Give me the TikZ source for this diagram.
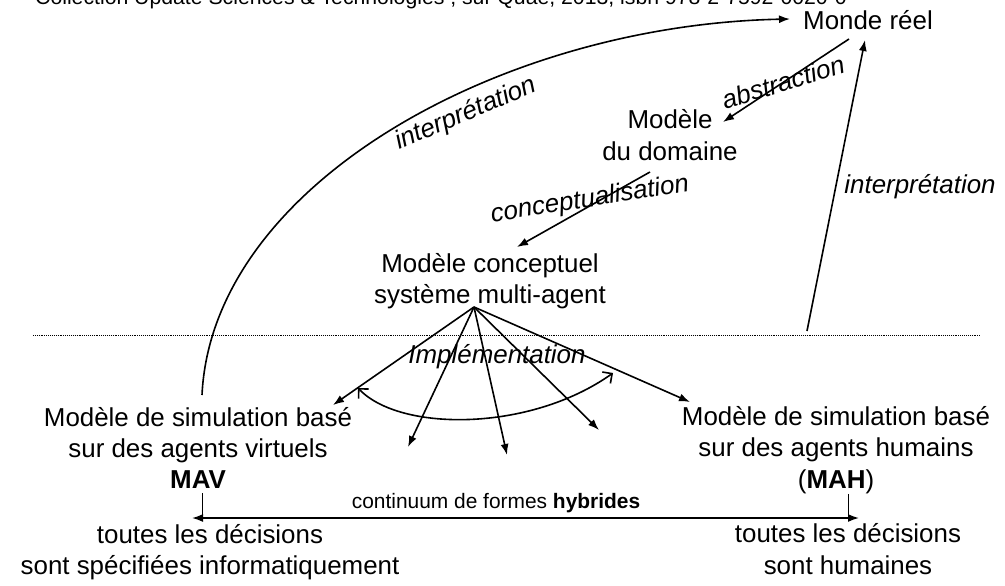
\documentclass[tikz,border=0pt]{standalone}
\usepackage{fontspec}
\setmainfont{Liberation Sans}
\usetikzlibrary{arrows.meta,calc}
\begin{document}
\begin{tikzpicture}[x=1bp,y=-1bp,
  lbl/.style={inner sep=0pt, align=center, font=\fontsize{26}{31.5}\selectfont},
  itl/.style={inner sep=0pt, font=\fontsize{26}{31.5}\selectfont\itshape},
  arr/.style={line width=1.6bp, -{Latex[length=11bp,width=8bp]}},
  dblarr/.style={line width=1.6bp, {Latex[length=11bp,width=8bp]}-{Latex[length=11bp,width=8bp]}},
  barbarr/.style={line width=1.6bp, {Straight Barb[length=7bp,width=14bp]}-{Straight Barb[length=7bp,width=14bp]}},
  tick/.style={line width=0.9bp}]
\useasboundingbox (0,0) rectangle (1005,586);
\clip (0,0) rectangle (1005,586);

% header (cut off at the top)
\node[anchor=base west, inner sep=0pt, font=\fontsize{21.3}{25}\selectfont] (hdr) at (35,4.5)
  {Collection Update Sciences \& Technologies ; sur Quae, 2013, isbn 978-2-7592-0020-0};

% main nodes
\node[lbl] (monde) at (868,20.5) {Monde réel};
\node[lbl] (dom) at (670,135) {Modèle\\du domaine};
\node[lbl] (conc) at (490,281) {Modèle conceptuel\\système multi-agent};
\node[lbl] (mav) at (198,448) {Modèle de simulation basé\\sur des agents virtuels\\\textbf{MAV}};
\node[lbl] (mah) at (836,450) {Modèle de simulation basé\\sur des agents humains\\(\textbf{MAH})};
\node[lbl] (decl) at (210,552) {toutes les décisions\\sont spécifiées informatiquement};
\node[lbl] (decr) at (848,549) {toutes les décisions\\sont humaines};

% dotted separator
\coordinate (dl) at (33,335);
\coordinate (dr) at (980,335);
\draw[densely dotted, line width=0.9bp] (dl) -- (dr);

% abstraction
\draw[arr] ($(monde.center)+(-19,18.5)$) -- ($(dom.center)+(53,-13)$);
\node[itl, rotate=17] (labs) at (783,82) {abstraction};

% conceptualisation
\draw[arr] ($(dom.center)+(-20,37)$) -- ($(conc.center)+(27,-34)$);
\node[itl, rotate=9] (lconc) at (590,200) {conceptualisation};

% interpretation (right)
\coordinate (ri) at (807,331);
\draw[arr] (ri) -- ($(monde.center)+(-3,19.5)$);
\node[itl] (lintr) at (920,187) {interprétation};

% interpretation (left, curved)
\draw[arr] ($(mav.center)+(4,-53)$) .. controls (212,185) and (500,25) .. ($(monde.center)+(-78,-1.5)$);
\node[itl, rotate=23] (lintl) at (466,114) {interprétation};

% implementation fan
\coordinate (fan) at ($(conc.center)+(-16,26)$);
\coordinate (e2) at (408,447);
\coordinate (e3) at (507,455);
\coordinate (e4) at (599,430);
\draw[arr] (fan) -- ($(mav.center)+(135,-43)$);
\draw[arr] (fan) -- (e2);
\draw[arr] (fan) -- (e3);
\draw[arr] (fan) -- (e4);
\draw[arr] (fan) -- ($(mah.center)+(-146,-48)$);
\node[itl] (limpl) at (497,357) {Implémentation};

% curved double arrow
\coordinate (ca) at (358,388);
\coordinate (cb) at (613,373);
\draw[barbarr] (ca) .. controls (400,432) and (530,432) .. (cb);

% continuum
\coordinate (bl) at (192,518);
\coordinate (br) at (859,518);
\draw[dblarr] (bl) -- (br);
\draw[tick] ($(mav.south)+(4,4)$) -- ($(mav.south)+(4,29)$);
\draw[tick] ($(mah.south)+(12,0)$) -- ($(mah.south)+(12,25)$);
\node[anchor=base, inner sep=0pt, font=\fontsize{21}{25}\selectfont] (cont) at (496,508) {continuum de formes \textbf{hybrides}};
\end{tikzpicture}
\end{document}
